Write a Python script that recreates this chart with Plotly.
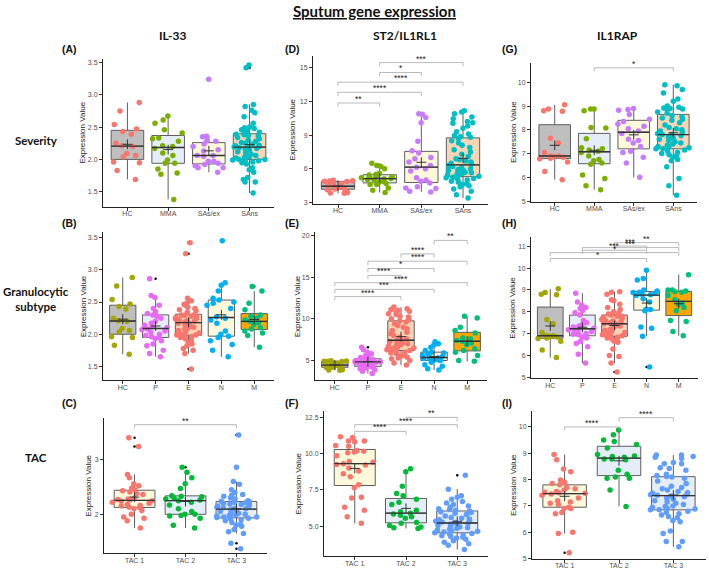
import numpy as np
import plotly.graph_objects as go

W, H = 709, 574

# ---------------- categories / tick labels ----------------
SEVERITY = ["HC", "MMA", "SAs/ex", "SAns"]
GRANULO = ["HC", "P", "E", "N", "M"]
TAC = ["TAC 1", "TAC 2", "TAC 3"]

TICKS_IL33 = [1.5, 2.0, 2.5, 3.0, 3.5]
TICKLAB_IL33 = ["1.5", "2.0", "2.5", "3.0", "3.5"]
TICKS_D = [3, 6, 9, 12, 15]
TICKS_G = [5, 6, 7, 8, 9, 10]
TICKS_E = [5, 10, 15, 20]
TICKS_H = [5, 6, 7, 8, 9, 10, 11]
TICKS_C = [2, 3]
TICKS_F = [5, 7.5, 10, 12.5]
TICKLAB_F = ["5.0", "7.5", "10.0", "12.5"]
TICKS_I = [5, 6, 7, 8, 9, 10]

# ---------------- IL-33, severity (A) ----------------
il33_hc = [1.69, 1.83, 1.95, 1.96, 2.04, 2.06, 2.09, 2.20, 2.21, 2.25, 2.39, 2.43, 2.47, 2.54, 2.75, 2.88]
il33_mma = [1.38, 1.77, 1.79, 1.85, 1.94, 1.94, 1.99, 2.06, 2.10, 2.17, 2.20, 2.21, 2.28, 2.32, 2.33, 2.41,
            2.46, 2.56, 2.61, 2.67]
il33_sasex = [1.80, 1.87, 1.87, 1.90, 1.92, 1.94, 1.97, 1.97, 2.05, 2.06, 2.06, 2.13, 2.15, 2.20, 2.24, 2.28,
              2.29, 2.35, 2.36, 3.24]
il33_sans = [3.46, 3.42, 2.85, 2.82, 2.76, 2.72, 2.66, 2.56, 2.50, 2.49, 2.48, 2.46, 2.44, 2.42, 2.40, 2.39,
             2.38, 2.37, 2.36, 2.34, 2.32, 2.30, 2.28, 2.26, 2.25, 2.24, 2.22, 2.21, 2.20, 2.19, 2.18, 2.18,
             2.17, 2.16, 2.14, 2.12, 2.10, 2.08, 2.06, 2.04, 2.03, 2.02, 2.01, 2.00, 2.00, 1.99, 1.98, 1.97,
             1.96, 1.95, 1.93, 1.87, 1.84, 1.80, 1.72, 1.69, 1.65, 1.65, 1.48]

# ---------------- ST2, severity (D) ----------------
st2_hc = [3.82, 3.85, 3.90, 4.15, 4.20, 4.25, 4.35, 4.40, 4.45, 4.55, 4.70, 4.80, 4.88, 4.90, 4.92, 4.95, 4.98]
st2_mma = [3.90, 4.10, 4.30, 4.60, 4.60, 4.70, 4.80, 4.90, 5.00, 5.05, 5.10, 5.10, 5.15, 5.20, 5.25, 5.30,
           5.40, 5.45, 5.50, 5.60, 6.00, 6.20, 6.30, 6.50]
st2_sasex = [3.95, 4.00, 4.25, 4.30, 4.40, 4.75, 4.90, 5.00, 5.20, 5.80, 6.00, 6.15, 6.30, 6.60, 6.90, 7.00,
             7.40, 7.60, 8.45, 10.10, 10.55, 10.85, 10.90]
st2_sans = [11.15, 11.05, 10.90, 10.60, 10.45, 10.20, 10.10, 10.05, 9.80, 9.60, 9.30, 9.10, 8.95, 8.85, 8.80,
            8.70, 8.50, 8.30, 8.10, 7.90, 7.70, 7.50, 7.30, 7.10, 6.90, 6.80, 6.70, 6.60, 6.50, 6.40,
            6.30, 6.20, 6.10, 6.00, 5.95, 5.90, 5.85, 5.80, 5.70, 5.65, 5.60, 5.50, 5.45, 5.40, 5.35,
            5.25, 5.20, 5.15, 5.10, 5.00, 4.90, 4.80, 4.70, 4.60, 4.50, 4.40, 4.20, 4.00, 3.70, 3.40]

# ---------------- IL1RAP, severity (G) ----------------
rap_hc = [5.90, 6.25, 6.65, 6.78, 6.80, 6.85, 6.88, 6.90, 6.90, 7.05, 7.45, 7.65, 8.78, 8.80, 8.88, 9.05]
rap_mma = [5.48, 5.65, 5.95, 6.10, 6.55, 6.60, 6.70, 6.75, 6.90, 7.05, 7.10, 7.15, 7.20, 7.25, 7.62, 8.08,
           8.10, 8.80, 8.88, 8.88]
rap_sasex = [6.00, 6.60, 6.85, 7.05, 7.10, 7.30, 7.45, 7.55, 7.60, 7.85, 7.95, 8.05, 8.15, 8.25, 8.35, 8.45,
             8.65, 8.82, 8.85, 8.90]
rap_sans = [9.90, 9.85, 9.70, 9.55, 9.30, 9.20, 9.00, 8.95, 8.92, 8.90, 8.88, 8.85, 8.75, 8.70,
            8.60, 8.55, 8.50, 8.45, 8.40, 8.30, 8.20, 8.10, 8.05, 8.00, 7.95, 7.90, 7.85, 7.80,
            7.80, 7.75, 7.70, 7.65, 7.60, 7.55, 7.50, 7.45, 7.40, 7.35, 7.30, 7.28, 7.25, 7.20,
            7.20, 7.15, 7.10, 7.05, 7.00, 6.95, 6.90, 6.85, 6.75, 6.70, 6.45, 5.95, 5.65, 5.25]

# ---------------- IL-33, granulocytic (B) ----------------
il33_p = [1.65, 1.70, 1.75, 1.82, 1.85, 1.90, 1.93, 1.95, 1.96, 1.98, 2.00, 2.03, 2.05, 2.07, 2.08, 2.10,
          2.12, 2.14, 2.17, 2.20, 2.25, 2.28, 2.30, 2.32, 2.35, 2.40, 2.45, 2.57, 2.60, 2.86]
il33_e = [3.42, 3.25, 2.56, 2.52, 2.48, 2.46, 2.44, 2.42, 2.40, 2.38, 2.36, 2.34,
          2.30, 2.30, 2.29, 2.28, 2.27, 2.26, 2.25, 2.24, 2.22, 2.21, 2.20, 2.19,
          2.18, 2.17, 2.15, 2.13, 2.11, 2.10, 2.08, 2.06, 2.04, 2.02, 2.00, 1.99, 1.99,
          1.97, 1.96, 1.95, 1.93, 1.90, 1.87, 1.85, 1.82, 1.78, 1.75, 1.70, 1.46]
il33_n = [1.65, 1.75, 1.84, 1.90, 1.95, 1.97, 2.00, 2.05, 2.17, 2.22, 2.25, 2.27, 2.40, 2.45, 2.48, 2.50,
          2.53, 2.56, 2.67, 2.76, 2.80, 3.45]
il33_m = [1.80, 1.98, 2.02, 2.05, 2.08, 2.10, 2.15, 2.18, 2.20, 2.22, 2.25, 2.28, 2.30, 2.38, 2.48, 2.67, 2.74]

# ---------------- ST2, granulocytic (E) ----------------
st2_p = [3.45, 3.70, 3.90, 4.00, 4.10, 4.20, 4.25, 4.30, 4.40, 4.50, 4.60, 4.70, 4.75, 4.80, 4.82, 4.85,
         4.90, 4.95, 5.00, 5.05, 5.10, 5.15, 5.20, 5.35, 5.50, 5.60, 5.80, 6.00, 6.30, 6.60]
st2_e = [11.40, 11.20, 11.10, 11.00, 10.90, 10.80, 10.60, 10.50, 10.30, 10.20, 10.00, 9.90,
         9.75, 9.60, 9.40, 9.20, 9.00, 8.80, 8.60, 8.40, 8.20, 8.00, 7.80, 7.60, 7.45,
         7.40, 7.30, 7.20, 7.10, 7.00, 6.90, 6.80, 6.70, 6.60, 6.50, 6.40, 6.30, 6.20,
         6.10, 6.00, 5.90, 5.80, 5.60, 5.50, 5.40, 5.30, 5.20, 5.00, 4.70, 4.45]
st2_n = [3.85, 4.00, 4.30, 4.50, 4.80, 5.00, 5.05, 5.10, 5.20, 5.25, 5.30, 5.40, 5.50, 5.60, 5.80, 5.90,
         6.00, 6.20, 6.60, 6.85, 7.00, 7.25]
st2_m = [4.90, 5.00, 5.60, 6.00, 6.20, 6.40, 6.90, 7.10, 7.30, 7.40, 7.60, 7.70, 8.30, 8.60, 9.00, 10.10, 10.30]

# ---------------- IL1RAP, granulocytic (H) ----------------
rap_p = [5.65, 6.05, 6.40, 6.55, 6.65, 6.80, 6.85, 6.90, 6.95, 6.98, 7.00, 7.05, 7.10, 7.18, 7.20, 7.24,
         7.25, 7.30, 7.35, 7.40, 7.50, 7.60, 7.85, 7.95, 8.05, 8.15, 8.20, 8.30, 8.45, 8.85]
rap_e = [8.92, 8.90, 8.80, 8.55, 8.50, 8.35, 8.20, 8.10, 8.00, 7.95, 7.90,
         7.85, 7.80, 7.78, 7.75, 7.70, 7.65, 7.60, 7.58, 7.55, 7.50, 7.48, 7.45,
         7.45, 7.40, 7.35, 7.30, 7.20, 7.15, 7.10, 7.05, 7.00, 6.95, 6.90, 6.88,
         6.85, 6.80, 6.75, 6.70, 6.65, 6.60, 6.30, 6.00, 5.95, 5.65, 5.24]
rap_n = [5.47, 6.88, 7.25, 7.30, 8.05, 8.10, 8.12, 8.45, 8.60, 8.75, 8.78, 8.80, 8.85, 8.88, 8.90, 8.95,
         9.00, 9.45, 9.52, 9.90]
rap_m = [6.90, 7.10, 7.55, 7.60, 8.05, 8.20, 8.35, 8.40, 8.55, 8.75, 8.90, 8.92, 8.95, 9.00, 9.00, 9.70]

# ---------------- IL-33, TAC (C) ----------------
il33_tac1 = [1.75, 1.88, 1.93, 1.95, 2.00, 2.07, 2.10, 2.12, 2.13, 2.15, 2.16, 2.18, 2.20, 2.22, 2.24, 2.25,
             2.26, 2.27, 2.28, 2.30, 2.36, 2.38, 2.41, 2.43, 2.45, 2.48, 2.52, 2.56, 2.67, 2.73, 3.24, 3.40]
il33_tac2 = [1.75, 1.80, 1.93, 1.97, 1.98, 2.00, 2.00, 2.05, 2.10, 2.17, 2.22, 2.25, 2.26, 2.28, 2.30, 2.32,
             2.33, 2.34, 2.47, 2.56, 2.67, 2.77, 2.86]
il33_tac3 = [3.45, 2.86, 1.47, 1.37,
             2.60, 2.55, 2.45, 2.40, 2.36, 2.35, 2.33, 2.30, 2.28, 2.25,
             2.24, 2.23, 2.22, 2.21, 2.20, 2.19, 2.18, 2.17, 2.15, 2.14, 2.13, 2.12, 2.11,
             2.10, 2.09, 2.07, 2.05, 2.03, 2.02, 2.00, 1.99, 1.98, 1.97, 1.96, 1.95, 1.95,
             1.94, 1.93, 1.92, 1.90, 1.88, 1.85, 1.82, 1.80, 1.78, 1.72, 1.68, 1.65]

# ---------------- ST2, TAC (F) ----------------
st2_tac1 = [5.20, 5.65, 6.10, 6.30, 6.95, 7.00, 7.65, 7.85, 8.40, 8.60, 8.80, 9.00, 9.20, 9.25, 9.30, 9.40,
            9.45, 9.85, 10.05, 10.10, 10.15, 10.20, 10.50, 10.55, 10.80, 10.85, 10.85, 11.10, 11.15]
st2_tac2 = [4.85, 4.90, 4.95, 5.05, 5.20, 5.25, 5.55, 5.65, 5.75, 5.85, 5.90, 6.00, 6.10, 6.50, 6.65, 6.85,
            7.10, 7.25, 7.75, 8.75, 8.95]
st2_tac3 = [8.50,
            7.55, 7.10, 7.00, 6.85, 6.70, 6.60, 6.50, 6.40, 6.30, 6.20, 6.15, 6.10,
            6.05, 6.00, 5.95, 5.90, 5.80, 5.70, 5.60, 5.55, 5.50, 5.45, 5.40, 5.35, 5.30, 5.25,
            5.20, 5.15, 5.10, 5.05, 5.00, 4.95, 4.90, 4.85, 4.80, 4.75, 4.70, 4.65, 4.60, 4.55,
            4.50, 4.45, 4.40, 4.35, 4.30, 4.25, 4.20, 4.10, 4.00, 3.90, 3.80, 3.70, 3.40]

# ---------------- IL1RAP, TAC (I) ----------------
rap_tac1 = [5.22, 5.95, 6.00, 6.70, 6.75, 6.90, 6.90, 6.95, 7.05, 7.10, 7.15, 7.20, 7.30, 7.40, 7.45, 7.48,
            7.50, 7.52, 7.55, 7.60, 7.65, 7.70, 7.80, 7.85, 7.90, 7.98, 8.30, 8.40, 8.75, 8.95]
rap_tac2 = [6.98, 7.60, 8.05, 8.05, 8.10, 8.20, 8.35, 8.75, 8.78, 8.78, 8.85, 8.88, 8.90, 8.95, 9.20, 9.33,
            9.45, 9.50, 9.70, 9.88]
rap_tac3 = [8.93, 8.93, 8.88, 8.85, 8.80, 8.65, 8.60, 8.60, 8.45, 8.42, 8.35, 8.20, 8.15, 8.12,
            8.10, 8.05, 7.95, 7.85, 7.75, 7.70, 7.65, 7.60, 7.55, 7.50, 7.48, 7.45, 7.42, 7.40,
            7.38, 7.35, 7.30, 7.25, 7.20, 7.15, 7.10, 7.05, 7.00, 6.98, 6.95, 6.90, 6.88, 6.85,
            6.85, 6.80, 6.75, 6.70, 6.65, 6.60, 6.55, 6.45, 6.40, 6.05, 5.95, 5.65, 5.65, 5.45]

# ---------------- significance brackets ----------------
BR_D = [("HC", "MMA", 11.85, "**"), ("HC", "SAs/ex", 12.8, "****"), ("HC", "SAns", 13.7, "****"),
        ("MMA", "SAs/ex", 14.56, "*"), ("MMA", "SAns", 15.44, "***")]
BR_G = [("MMA", "SAns", 10.61, "*")]
BR_E = [("HC", "E", 12.66, "****"), ("HC", "N", 13.53, "***"), ("HC", "M", 14.33, "****"),
        ("P", "E", 15.2, "****"), ("P", "N", 16.03, "*"), ("P", "M", 16.9, "****"),
        ("E", "N", 17.78, "****"), ("N", "M", 19.4, "**")]
BR_H = [("HC", "N", 10.44, "*"), ("HC", "M", 10.71, "*"), ("P", "N", 10.82, "***"),
        ("P", "M", 10.94, "***"), ("E", "N", 11.01, "***"), ("E", "M", 11.17, "**")]
BR_C = [("TAC 1", "TAC 3", 3.64, "**")]
BR_F = [("TAC 1", "TAC 2", 11.52, "****"), ("TAC 1", "TAC 3", 11.98, "****"), ("TAC 2", "TAC 3", 12.48, "**")]
BR_I = [("TAC 1", "TAC 2", 10.0, "****"), ("TAC 2", "TAC 3", 10.35, "****")]

# ---------------- styles ----------------
GREY, LBLUE, LYEL, PEACH, ORANGE = "#BEBEBE", "#E5EEF8", "#FDF8D9", "#FAD5B5", "#FFA500"
SEV_BOX = [GREY, LBLUE, LYEL, PEACH]
SEV_PT = ["#F8766D", "#7CAE00", "#C77CFF", "#00BFC4"]
GRA_BOX = [GREY, LBLUE, PEACH, LYEL, ORANGE]
GRA_PT = ["#A3A500", "#E76BF3", "#F8766D", "#00B0F6", "#00BF7D"]
TAC_BOX = [LYEL, LBLUE, LBLUE]
TAC_PT = ["#F8766D", "#00BA38", "#619CFF"]

panels = [
    dict(lab="(A)", cats=SEVERITY, data=[il33_hc, il33_mma, il33_sasex, il33_sans], box=SEV_BOX, pt=SEV_PT,
         px=(103, 274, 58, 207), yr=(1.27, 3.56), tv=TICKS_IL33, tt=TICKLAB_IL33, br=[], tx=83),
    dict(lab="(D)", cats=SEVERITY, data=[st2_hc, st2_mma, st2_sasex, st2_sans], box=SEV_BOX, pt=SEV_PT,
         px=(313, 488, 55, 204), yr=(2.91, 16.06), tv=TICKS_D, tt=[str(v) for v in TICKS_D], br=BR_D, tx=293),
    dict(lab="(G)", cats=SEVERITY, data=[rap_hc, rap_mma, rap_sasex, rap_sans], box=SEV_BOX, pt=SEV_PT,
         px=(531, 697, 62, 202), yr=(4.98, 10.83), tv=TICKS_G, tt=[str(v) for v in TICKS_G], br=BR_G, tx=513),
    dict(lab="(B)", cats=GRANULO, data=[il33_hc, il33_p, il33_e, il33_n, il33_m], box=GRA_BOX, pt=GRA_PT,
         px=(103, 274, 233, 382), yr=(1.285, 3.58), tv=TICKS_IL33, tt=TICKLAB_IL33, br=[], tx=83),
    dict(lab="(E)", cats=GRANULO, data=[st2_hc, st2_p, st2_e, st2_n, st2_m], box=GRA_BOX, pt=GRA_PT,
         px=(315, 487, 233, 382), yr=(2.62, 20.36), tv=TICKS_E, tt=[str(v) for v in TICKS_E], br=BR_E, tx=297),
    dict(lab="(H)", cats=GRANULO, data=[rap_hc, rap_p, rap_e, rap_n, rap_m], box=GRA_BOX, pt=GRA_PT,
         px=(531, 698, 238, 380), yr=(4.95, 11.41), tv=TICKS_H, tt=[str(v) for v in TICKS_H], br=BR_H, tx=513),
    dict(lab="(C)", cats=TAC, data=[il33_tac1, il33_tac2, il33_tac3], box=TAC_BOX, pt=TAC_PT,
         px=(104, 267, 420, 556), yr=(1.29, 3.76), tv=TICKS_C, tt=[str(v) for v in TICKS_C], br=BR_C, tx=89),
    dict(lab="(F)", cats=TAC, data=[st2_tac1, st2_tac2, st2_tac3], box=TAC_BOX, pt=TAC_PT,
         px=(324, 488, 413, 559), yr=(2.95, 12.91), tv=TICKS_F, tt=TICKLAB_F, br=BR_F, tx=299),
    dict(lab="(I)", cats=TAC, data=[rap_tac1, rap_tac2, rap_tac3], box=TAC_BOX, pt=TAC_PT,
         px=(532, 706, 413, 562), yr=(4.98, 10.6), tv=TICKS_I, tt=[str(v) for v in TICKS_I], br=BR_I, tx=513),
]

LABEL_POS = {"(A)": (60, 48), "(D)": (283, 48), "(G)": (500, 48),
             "(B)": (60, 224), "(E)": (283, 224), "(H)": (500, 224),
             "(C)": (60, 405), "(F)": (283, 405), "(I)": (500, 405)}

fig = go.Figure()
FONT = "Liberation Sans, Arial, sans-serif"
HEAD = "Lato, Open Sans, sans-serif"
layout = dict(width=W, height=H, margin=dict(l=0, r=0, t=0, b=0), plot_bgcolor="white",
              paper_bgcolor="white", showlegend=False, boxmode="overlay",
              font=dict(family=FONT, color="#222"))
shapes, annotations = [], []


def paper_text(x, y, text, size, family, color="#111", angle=0, xanchor="center"):
    return dict(x=x / W, y=1 - y / H, xref="paper", yref="paper", text=text, showarrow=False,
                xanchor=xanchor, yanchor="middle", textangle=angle, align="center",
                font=dict(size=size, color=color, family=family))


for k, p in enumerate(panels, start=1):
    xa = "x" if k == 1 else f"x{k}"
    ya = "y" if k == 1 else f"y{k}"
    l, r, t, b = p["px"]
    n = len(p["cats"])
    pos = list(range(1, n + 1))
    # boxes
    for i, vals in enumerate(p["data"]):
        fig.add_trace(go.Box(x=[pos[i]] * len(vals), y=vals, xaxis=xa, yaxis=ya, width=0.8,
                             boxpoints="outliers", pointpos=0, jitter=0, whiskerwidth=0,
                             fillcolor=p["box"][i], line=dict(color="#5E5E5E", width=1),
                             marker=dict(color="black", size=2.5), hoverinfo="skip"))
    # jittered points
    for i, vals in enumerate(p["data"]):
        fig.add_trace(go.Box(x=[pos[i]] * len(vals), y=vals, xaxis=xa, yaxis=ya, width=0.9,
                             boxpoints="all", pointpos=0, jitter=1,
                             fillcolor="rgba(0,0,0,0)", line=dict(color="rgba(0,0,0,0)", width=0),
                             marker=dict(color=p["pt"][i], size=5.5, opacity=1), hoverinfo="skip"))
    # medians (thicker line) and means (+)
    for i, vals in enumerate(p["data"]):
        med = float(np.median(vals))
        fig.add_trace(go.Scatter(x=[pos[i] - 0.4, pos[i] + 0.4], y=[med, med], xaxis=xa, yaxis=ya,
                                 mode="lines", line=dict(color="#333333", width=1.4), hoverinfo="skip"))
    fig.add_trace(go.Scatter(x=pos, y=[float(np.mean(v)) for v in p["data"]], xaxis=xa, yaxis=ya,
                             mode="markers", hoverinfo="skip",
                             marker=dict(symbol="cross-thin", size=7, color="#333333",
                                         line=dict(width=1, color="#333333"))))
    axk = "" if k == 1 else str(k)
    common = dict(showline=True, linecolor="#222222", linewidth=1, ticks="outside", ticklen=3,
                  tickwidth=0.8, tickcolor="#333333", showgrid=False, zeroline=False,
                  tickfont=dict(size=7, color="#4D4D4D", family=FONT), fixedrange=True)
    layout["xaxis" + axk] = dict(domain=[l / W, r / W], range=[0.4, n + 0.6], anchor=ya,
                                 tickvals=pos, ticktext=p["cats"], ticklabelstandoff=-3, **common)
    layout["yaxis" + axk] = dict(domain=[1 - b / H, 1 - t / H], range=list(p["yr"]), anchor=xa,
                                 tickvals=p["tv"], ticktext=p["tt"], **common)
    # y title
    annotations.append(paper_text(p["tx"], (t + b) / 2, "Expression Value", 8, FONT, "#1A1A1A", -90))
    # brackets
    tip = 0.025 * (p["yr"][1] - p["yr"][0])
    for g1, g2, yv, lab in p["br"]:
        i1 = p["cats"].index(g1) + 1
        i2 = p["cats"].index(g2) + 1
        shapes.append(dict(type="path", xref=xa, yref=ya,
                           path=f"M {i1},{yv - tip} L {i1},{yv} L {i2},{yv} L {i2},{yv - tip}",
                           line=dict(color="#A8A8A8", width=0.8)))
        annotations.append(dict(x=(i1 + i2) / 2, y=yv, xref=xa, yref=ya, text=lab, showarrow=False,
                                xanchor="center", yanchor="bottom", yshift=-3,
                                font=dict(size=8.5, color="#222", family=FONT)))
    lx, ly = LABEL_POS[p["lab"]]
    annotations.append(paper_text(lx, ly, "<b>" + p["lab"] + "</b>", 10.5, FONT, xanchor="left"))

# titles and row / column labels
annotations.append(paper_text(375, 10, "<b><u>Sputum gene expression</u></b>", 15, HEAD))
for txt, cx in [("IL-33", 172), ("ST2/IL1RL1", 405), ("IL1RAP", 617)]:
    annotations.append(paper_text(cx, 35, "<b>" + txt + "</b>", 12, HEAD))
for txt, cy in [("Severity", 140), ("Granulocytic<br>subtype", 300), ("TAC", 460)]:
    annotations.append(paper_text(36, cy, "<b>" + txt + "</b>", 11.5, HEAD))

layout["shapes"] = shapes
layout["annotations"] = annotations
fig.update_layout(**layout)
# remove the browser's default 8px page margin so the figure sits at the window origin
fig.write_html("out.html", config={"displayModeBar": False},
               post_script="document.body.style.margin='0px';")
